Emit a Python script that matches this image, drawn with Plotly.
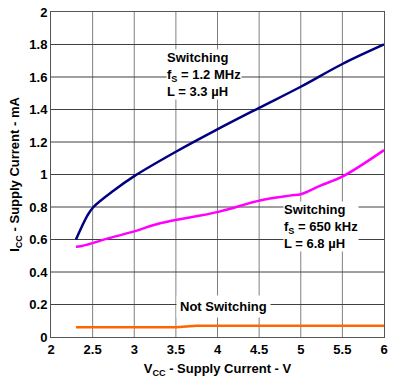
import plotly.graph_objects as go

vcc_sw12 = [2.3, 2.44, 2.51, 2.75, 3.0, 3.5, 3.97, 4.5, 5.0, 5.5, 6.0]
icc_sw12 = [0.60, 0.75, 0.80, 0.90, 0.99, 1.14, 1.27, 1.41, 1.54, 1.68, 1.80]

vcc_sw650 = [2.3, 2.37, 2.71, 3.0, 3.31, 4.01, 4.51, 4.87, 5.01, 5.23, 5.51, 6.0]
icc_sw650 = [0.555, 0.56, 0.61, 0.65, 0.70, 0.77, 0.84, 0.87, 0.88, 0.93, 0.99, 1.15]

vcc_ns = [2.3, 3.5, 3.75, 4.5, 5.0, 6.0]
icc_ns = [0.06, 0.06, 0.07, 0.07, 0.07, 0.07]

x_ticks = [2, 2.5, 3, 3.5, 4, 4.5, 5, 5.5, 6]
x_tick_labels = ["2", "2.5", "3", "3.5", "4", "4.5", "5", "5.5", "6"]
y_ticks = [0, 0.2, 0.4, 0.6, 0.8, 1, 1.2, 1.4, 1.6, 1.8, 2]
y_tick_labels = ["0", "0.2", "0.4", "0.6", "0.8", "1", "1.2", "1.4", "1.6", "1.8", "2"]

FONT = "Liberation Sans, Arial, sans-serif"
BOLD = dict(family=FONT, size=13, color="black", weight="bold")

fig = go.Figure()

# grid lines built from the tick arrays, drawn as line traces beneath the curves
gx_v, gy_v = [], []
for xv in x_ticks[1:-1]:
    gx_v += [xv, xv, None]
    gy_v += [y_ticks[0], y_ticks[-1], None]
gx_h, gy_h = [], []
for yv in y_ticks[1:-1]:
    gx_h += [x_ticks[0], x_ticks[-1], None]
    gy_h += [yv, yv, None]
fig.add_trace(go.Scatter(x=gx_v, y=gy_v, mode="lines", hoverinfo="skip",
                         line=dict(color="#808080", width=1)))
fig.add_trace(go.Scatter(x=gx_h, y=gy_h, mode="lines", hoverinfo="skip",
                         line=dict(color="#404040", width=1)))

fig.add_trace(go.Scatter(x=vcc_sw12, y=icc_sw12, mode="lines",
                         line=dict(color="#000080", width=2.5), line_shape="spline"))
fig.add_trace(go.Scatter(x=vcc_sw650, y=icc_sw650, mode="lines",
                         line=dict(color="#ff00ff", width=2.5), line_shape="spline"))
fig.add_trace(go.Scatter(x=vcc_ns, y=icc_ns, mode="lines",
                         line=dict(color="#ff6600", width=2.5)))

fig.add_annotation(x=3.38, y=1.77, xref="x", yref="y", xanchor="left", yanchor="top",
                   align="left", showarrow=False, bgcolor="white", borderpad=0,
                   text="Switching<br>f<sub>S</sub> = 1.2 MHz<br>L = 3.3 µH",
                   font=BOLD)
fig.add_annotation(x=4.79, y=0.84, xref="x", yref="y", xanchor="left", yanchor="top",
                   align="left", showarrow=False, bgcolor="white", borderpad=0,
                   text="Switching<br>f<sub>S</sub> = 650 kHz<br>L = 6.8 µH",
                   font=BOLD)
fig.add_annotation(x=4.07, y=0.19, xref="x", yref="y", xanchor="center", yanchor="middle",
                   showarrow=False, bgcolor="white", borderpad=3,
                   text="Not Switching", font=BOLD)

fig.update_layout(
    width=403, height=389,
    margin=dict(l=51, r=19, t=5, b=52),
    paper_bgcolor="white", plot_bgcolor="white",
    showlegend=False,
)
fig.update_xaxes(range=[2, 6], tickmode="array", tickvals=x_ticks, ticktext=x_tick_labels,
                 tickfont=BOLD, ticklabeloverflow="allow",
                 showgrid=False,
                 showline=True, linecolor="#555555", linewidth=1, mirror=True,
                 zeroline=False, ticks="",
                 title=dict(text="V<sub>CC</sub> - Supply Current - V", standoff=8, font=BOLD))
fig.update_yaxes(range=[0, 2], tickmode="array", tickvals=y_ticks, ticktext=y_tick_labels,
                 tickfont=BOLD, ticklabeloverflow="allow",
                 showgrid=False,
                 showline=True, linecolor="#555555", linewidth=1, mirror=True,
                 zeroline=False, ticks="",
                 title=dict(text="I<sub>CC</sub> - Supply Current - mA", standoff=6, font=BOLD))

fig.write_html("out.html", post_script="document.body.style.margin='0';",
               config={"displayModeBar": False})
